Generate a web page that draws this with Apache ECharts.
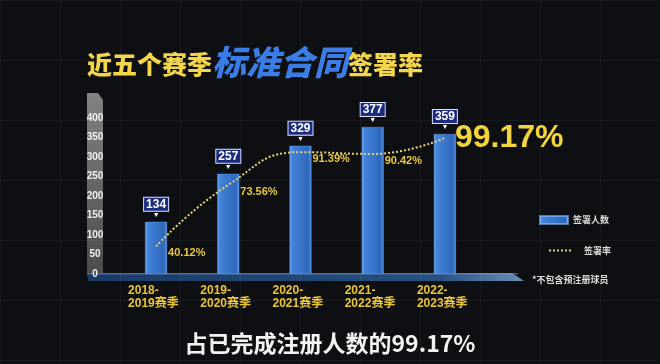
<!DOCTYPE html>
<html><head><meta charset="utf-8">
<script src="https://cdn.jsdelivr.net/npm/echarts@6/dist/echarts.min.js"></script>
<style>html,body{margin:0;padding:0;background:#0e0f12;}#c{width:660px;height:364px;}</style>
</head><body><div id="c"></div>
<script>
const categories = ['2018-2019赛季','2019-2020赛季','2020-2021赛季','2021-2022赛季','2022-2023赛季'];
const signedCounts = [134, 257, 329, 377, 359];
const signRates = [40.12, 73.56, 91.39, 90.42, 99.17];
const yTicks = [0, 50, 100, 150, 200, 250, 300, 350, 400];
const titleParts = ['近五个赛季', '标准合同', '签署率'];
const subtitle = '占已完成注册人数的99.17%';
const footnote = '*不包含预注册球员';
const legendNames = ['签署人数', '签署率'];

const FONT = '"Liberation Sans", "Noto Sans CJK SC", sans-serif';
const CJK = '"Noto Sans CJK SC", sans-serif';
const chart = echarts.init(document.getElementById('c'));

chart.setOption({
  backgroundColor: '#0e0f12',
  animation: false,
  title: [
    {
      left: 82, top: 34,
      text: '{y|' + titleParts[0] + '}{b|' + titleParts[1] + '}{y|' + titleParts[2] + '}',
      textStyle: {
        rich: {
          y: { fontFamily: CJK, fontSize: 25, fontWeight: 900, color: '#f4d64c', verticalAlign: 'bottom', lineHeight: 40, padding: [0,0,2,0] },
          b: { fontFamily: CJK, fontSize: 34, fontWeight: 900, fontStyle: 'italic', color: '#3a7de6', verticalAlign: 'bottom', lineHeight: 40, padding: [0,0,0,0] }
        }
      }
    },
    {
      left: 'center', top: 327,
      text: subtitle,
      textStyle: { fontFamily: CJK, fontSize: 23, fontWeight: 'bold', color: '#f2f2f2' }
    },
    {
      left: 527, top: 270,
      text: footnote,
      textStyle: { fontFamily: CJK, fontSize: 9, fontWeight: 'bold', color: '#dcdcdc' }
    }
  ],
  legend: [
    {
      data: [legendNames[0]], left: 534, top: 210, itemWidth: 28, itemHeight: 8, itemGap: 5,
      icon: 'rect',
      textStyle: { fontFamily: CJK, fontSize: 9, fontWeight: 'bold', color: '#dcdcdc' }
    },
    {
      data: [legendNames[1]], left: 543, top: 241, itemWidth: 24, itemHeight: 8,
      lineStyle: { type: 'dotted', width: 2, color: '#e8d27a' },
      itemStyle: { color: 'transparent', borderWidth: 0, opacity: 0 },
      textStyle: { fontFamily: CJK, fontSize: 9, fontWeight: 'bold', color: '#dcdcdc', padding: [0,0,0,6] }
    }
  ],
  graphic: [
    {
      type: 'polygon', z: -1, silent: true,
      shape: { points: [[87,93],[98,93],[103,100],[103,276],[87,276]] },
      style: { fill: new echarts.graphic.LinearGradient(0,0,0,1,[{offset:0,color:'rgba(150,150,150,0.85)'},{offset:1,color:'rgba(85,85,85,0.85)'}]) }
    },
    {
      type: 'polygon', z: -1, silent: true,
      shape: { points: [[88,273],[512,273],[524,281],[88,281]] },
      style: { fill: new echarts.graphic.LinearGradient(0,0,1,0,[{offset:0,color:'#1b3a66'},{offset:0.8,color:'#27507f'},{offset:1,color:'#6a8fb8'}]) }
    },
    {
      type: 'rect', z: -1, silent: true,
      shape: { x: 88, y: 273, width: 430, height: 1.5 },
      style: { fill: 'rgba(120,160,220,0.5)' }
    }
  ],
  grid: [
    { left: 120, right: 179, top: 118, bottom: 90 },
    { left: 0, right: 0, top: 0, bottom: 0, z: -2 }
  ],
  xAxis: [
    {
      type: 'category', data: categories, gridIndex: 0,
      axisLine: { show: false }, axisTick: { show: false },
      axisLabel: {
        margin: 10, interval: 0,
        formatter: function (v) { const i = v.indexOf('-'); return '{a|' + v.slice(0, i + 1) + '}\n{a|' + v.slice(i + 1) + '}'; },
        rich: { a: { width: 56, align: 'left', fontFamily: FONT, fontSize: 12, fontWeight: 'bold', color: '#e8c53a', lineHeight: 13 } }
      }
    },
    {
      type: 'value', gridIndex: 1, min: 0, max: 660, interval: 60,
      axisLine: { show: false }, axisTick: { show: false }, axisLabel: { show: false },
      splitLine: { show: true, lineStyle: { color: 'rgba(255,255,255,0.045)', width: 1 } }
    }
  ],
  yAxis: [
    {
      type: 'value', gridIndex: 0, min: yTicks[0], max: yTicks[yTicks.length - 1], interval: 50,
      axisLine: { show: false }, axisTick: { show: false }, splitLine: { show: false },
      axisLabel: { margin: 25, align: 'center', fontFamily: FONT, fontSize: 10, fontWeight: 'bold', color: '#f0f0f0' }
    },
    {
      type: 'value', gridIndex: 0, min: 25, max: 110, show: false, splitLine: { show: false }
    },
    {
      type: 'value', gridIndex: 1, min: 0, max: 364, interval: 60, inverse: true,
      axisLine: { show: false }, axisTick: { show: false }, axisLabel: { show: false },
      splitLine: { show: true, lineStyle: { color: 'rgba(255,255,255,0.045)', width: 1 } }
    }
  ],
  series: [
    {
      name: legendNames[0], type: 'bar', xAxisIndex: 0, yAxisIndex: 0,
      data: signedCounts, barWidth: 22,
      itemStyle: {
        color: new echarts.graphic.LinearGradient(0,0,1,0,[
          {offset:0,color:'#74aaf2'},{offset:0.12,color:'#4384da'},{offset:0.85,color:'#2f68bc'},{offset:1,color:'#5a94e2'}]),
        borderColor: 'rgba(140,190,255,0.6)', borderWidth: 0.5
      },
      label: {
        show: true, position: 'top', distance: 3,
        formatter: '{v|{c}}\n{t|▼}',
        rich: {
          v: { fontFamily: FONT, fontSize: 12, fontWeight: 'bold', color: '#ffffff', backgroundColor: '#1c2b7e', borderColor: '#d8e0ff', borderWidth: 1, padding: [1,2,0,2], lineHeight: 13 },
          t: { fontSize: 7, color: '#ffffff', lineHeight: 8 }
        }
      }
    },
    {
      name: legendNames[1], type: 'line', xAxisIndex: 0, yAxisIndex: 1,
      smooth: true, symbol: 'circle', symbolSize: 0,
      lineStyle: { type: 'dotted', width: 2, color: '#e8d27a' },
      itemStyle: { color: '#e8d27a' },
      data: signRates.map(function (v, i) {
        if (i === signRates.length - 1) {
          return { value: v, label: { fontSize: 32, distance: 10, offset: [0, 0], color: '#f2d43c' } };
        }
        return v;
      }),
      label: {
        show: true, position: 'right', distance: 12, offset: [0, 7],
        formatter: '{c}%', fontFamily: FONT, fontSize: 11, fontWeight: 'bold', color: '#e6c845'
      },
      z: 5
    }
  ]
});
</script>
</body></html>
